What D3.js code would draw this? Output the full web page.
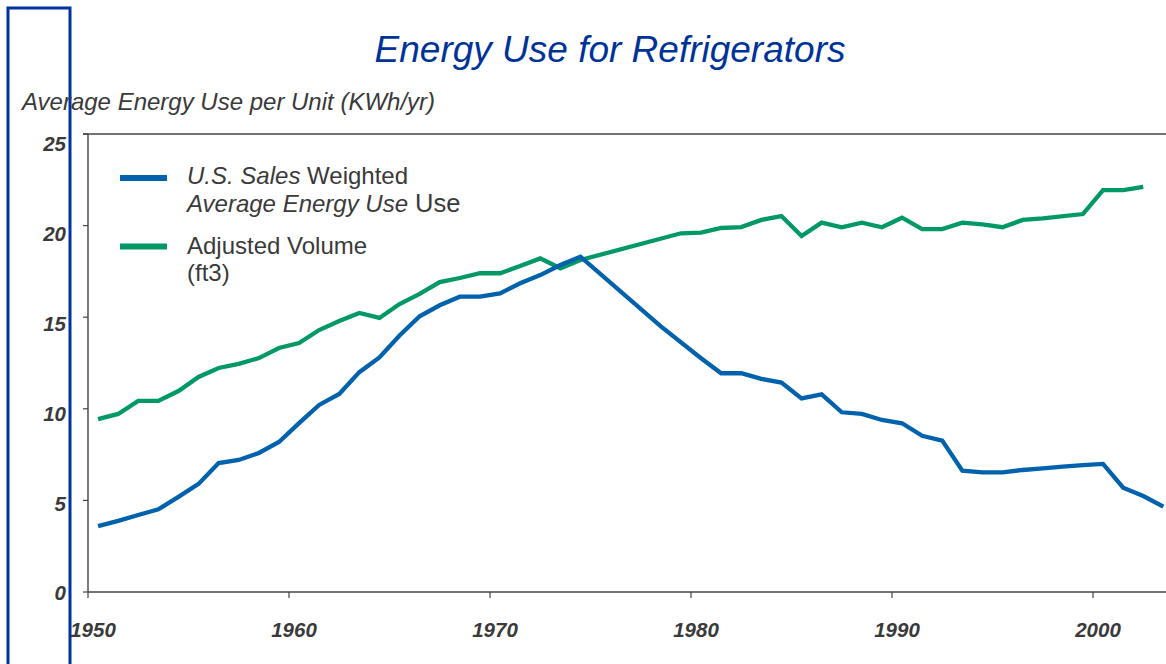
<!DOCTYPE html>
<html><head><meta charset="utf-8">
<script src="https://cdn.jsdelivr.net/npm/d3@7"></script>
<style>
html,body{margin:0;padding:0;background:#fff;}
svg{display:block;font-family:"Liberation Sans",Arial,sans-serif;}
</style></head>
<body><svg id="c" width="1166" height="664"></svg>
<script>
// ---- data ----
const blueYears = [1950,1951,1952,1953,1954,1955,1956,1957,1958,1959,1960,1961,1962,1963,1964,1965,1966,1967,1968,1969,1970,1971,1972,1973,1974,1978,1980,1981,1982,1983,1984,1985,1986,1987,1988,1989,1990,1991,1992,1993,1994,1995,1996,1997,1998,1999,2000,2001,2002,2003];
const blueValues = [3.60,3.88,4.20,4.51,5.19,5.90,7.04,7.21,7.59,8.19,9.22,10.21,10.81,12.0,12.8,14.0,15.05,15.65,16.12,16.12,16.30,16.85,17.30,17.85,18.30,14.50,12.76,11.94,11.94,11.63,11.43,10.57,10.79,9.81,9.72,9.39,9.21,8.53,8.26,6.62,6.53,6.53,6.66,6.75,6.84,6.93,6.99,5.69,5.24,4.66];
const greenYears = [1950,1951,1952,1953,1954,1955,1956,1957,1958,1959,1960,1961,1962,1963,1964,1965,1966,1967,1968,1969,1970,1971,1972,1973,1974,1979,1980,1981,1982,1983,1984,1985,1986,1987,1988,1989,1990,1991,1992,1993,1994,1995,1996,1997,1999,2000,2001,2002];
const greenValues = [9.44,9.72,10.43,10.43,10.97,11.74,12.23,12.45,12.77,13.32,13.59,14.30,14.79,15.23,14.96,15.72,16.27,16.92,17.14,17.40,17.40,17.79,18.21,17.67,18.12,19.58,19.62,19.87,19.92,20.31,20.52,19.43,20.16,19.91,20.16,19.91,20.43,19.81,19.81,20.16,20.07,19.91,20.31,20.40,20.63,21.94,21.94,22.12];
const yTicks = [0,5,10,15,20,25];
const xTicks = [1950,1960,1970,1980,1990,2000];
const titleText = "Energy Use for Refrigerators";
const yAxisTitle = "Average Energy Use per Unit (KWh/yr)";

const svg = d3.select("#c");
const BLUE = "#0062ad", GREEN = "#009966", TXT = "#3a3a3a", AX = "#444";

// left decorative frame
svg.append("rect").attr("x",8).attr("y",8).attr("width",62).attr("height",720)
  .attr("fill","none").attr("stroke","#0033a0").attr("stroke-width",3);

// scales
const x = d3.scaleLinear().domain([1950, 2004]).range([88, 88 + 54*20.1]);
const y = d3.scaleLinear().domain([0, 25]).range([592, 134]);
const yLab = d3.scaleLinear().domain([0, 25]).range([593, 144]);

// title
svg.append("text").attr("x",610).attr("y",62).attr("text-anchor","middle")
  .attr("font-size",37).attr("font-style","italic").attr("fill","#003399").text(titleText);
svg.append("text").attr("x",22).attr("y",110).attr("font-size",24)
  .attr("font-style","italic").attr("fill",TXT).text(yAxisTitle);

// axes
const g = svg.append("g");
g.append("line").attr("x1",83).attr("x2",1166).attr("y1",y(25)).attr("y2",y(25)).attr("stroke",AX).attr("stroke-width",1.4);
g.append("line").attr("x1",88).attr("x2",88).attr("y1",y(25)).attr("y2",y(0)).attr("stroke",AX).attr("stroke-width",1.4);
g.append("line").attr("x1",88).attr("x2",1166).attr("y1",y(0)).attr("y2",y(0)).attr("stroke",AX).attr("stroke-width",1.6);
yTicks.forEach(t=>{
  g.append("line").attr("x1",83).attr("x2",88).attr("y1",y(t)).attr("y2",y(t)).attr("stroke",AX).attr("stroke-width",1.2);
  g.append("text").attr("x",66).attr("y",yLab(t)).attr("dy","0.36em").attr("text-anchor","end")
    .attr("font-size",20.5).attr("font-weight","bold").attr("font-style","italic").attr("fill",TXT).text(t);
});
xTicks.forEach(t=>{
  g.append("line").attr("x1",x(t)).attr("x2",x(t)).attr("y1",y(0)).attr("y2",y(0)+6).attr("stroke",AX).attr("stroke-width",1.2);
  g.append("text").attr("x",x(t)+5).attr("y",637).attr("text-anchor","middle")
    .attr("font-size",20.5).attr("font-weight","bold").attr("font-style","italic").attr("fill",TXT).text(t);
});

// lines
const line = d3.line().x(d=>x(d[0]+0.5)).y(d=>y(d[1]));
svg.append("path").datum(greenYears.map((yr,i)=>[yr,greenValues[i]]))
  .attr("d",line).attr("fill","none").attr("stroke",GREEN).attr("stroke-width",4.3).attr("stroke-linejoin","miter");
svg.append("path").datum(blueYears.map((yr,i)=>[yr,blueValues[i]]))
  .attr("d",line).attr("fill","none").attr("stroke",BLUE).attr("stroke-width",4.3).attr("stroke-linejoin","miter");

// legend
const lg = svg.append("g");
lg.append("line").attr("x1",120).attr("x2",167).attr("y1",178).attr("y2",178).attr("stroke",BLUE).attr("stroke-width",6);
lg.append("line").attr("x1",120).attr("x2",167).attr("y1",246.5).attr("y2",246.5).attr("stroke",GREEN).attr("stroke-width",6);
const t1 = lg.append("text").attr("x",187).attr("y",183.5).attr("font-size",24).attr("fill",TXT);
t1.append("tspan").attr("font-style","italic").text("U.S. Sales");
t1.append("tspan").text(" Weighted");
const t2 = lg.append("text").attr("x",187).attr("y",211.5).attr("font-size",24).attr("fill",TXT);
t2.append("tspan").attr("font-style","italic").text("Average Energy Use");
t2.append("tspan").attr("font-size",25.5).text(" Use");
lg.append("text").attr("x",187).attr("y",253.5).attr("font-size",24).attr("fill",TXT).text("Adjusted Volume");
lg.append("text").attr("x",187).attr("y",280.5).attr("font-size",24).attr("fill",TXT).text("(ft3)");
</script></body></html>
